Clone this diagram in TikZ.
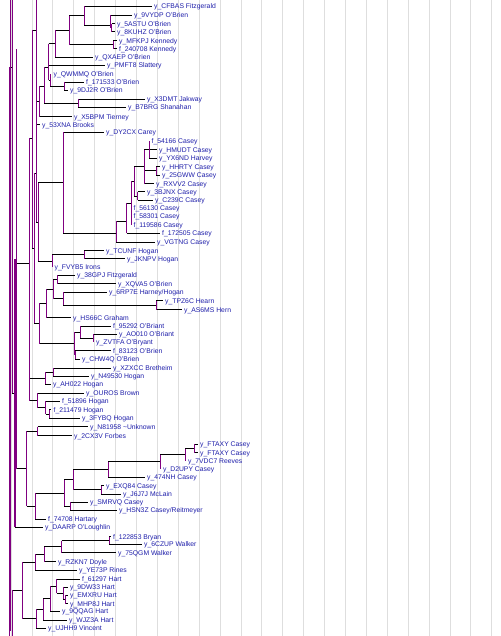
\documentclass[tikz,border=0pt]{standalone}
\usepackage{fontspec}
\setmainfont{Liberation Sans}
\definecolor{pur}{RGB}{128,0,128}
\definecolor{lbl}{RGB}{30,30,170}
\definecolor{grd}{RGB}{222,222,222}
\newcommand{\hc}[2]{\draw[hl] (#1 |- #2) -- (#2);}
\newcommand{\vc}[3]{\draw[vl] (#1 |- #2) -- (#1 |- #3);}
\newcommand{\lf}[4]{\node[leaf] (#1) at (#2,#3) {#4};}
\begin{document}
\begin{tikzpicture}[x=1pt,y=-1pt,
  leaf/.style={anchor=west,inner xsep=2.5pt,inner ysep=0pt,font=\fontsize{6.8}{7}\selectfont,text=lbl,text height=4.9pt,text depth=0pt},
  hl/.style={draw=black,line width=0.8pt},
  vl/.style={draw=pur,line width=0.9pt},
  vlb/.style={draw=pur,line width=2pt},
  gridline/.style={draw=grd,line width=0.8pt}]
\useasboundingbox (0,0) rectangle (500,636);
\fill[white] (0,0) rectangle (500,636);
\foreach \k in {0,...,23} \draw[gridline] ({11+20.9*\k},0) -- ({11+20.9*\k},636);
% leaves
\lf{l1}{151.5}{6.3}{y\_CFBAS Fitzgerald}
\lf{l2}{131.5}{15.3}{y\_9VYDP O'Brien}
\lf{l3}{114.5}{23.7}{y\_5ASTU O'Brien}
\lf{l4}{114.5}{31.7}{y\_8KUHZ O'Brien}
\lf{l5}{116.5}{40.7}{y\_MFKPJ Kennedy}
\lf{l6}{116.5}{48.7}{f\_240708 Kennedy}
\lf{l7}{92.5}{57.3}{y\_QXAEP O'Brien}
\lf{l8}{104.5}{65.3}{y\_PMFT8 Slattery}
\lf{l9}{51}{74}{y\_QWMMQ O'Brien}
\lf{l10}{83.5}{82}{f\_171533 O'Brien}
\lf{l11}{67.5}{90}{y\_9DJ2R O'Brien}
\lf{l12}{144.5}{99}{y\_X3DMT Jakway}
\lf{l13}{125.5}{107.3}{y\_B7BRG Shanahan}
\lf{l14}{71.5}{116.7}{y\_X5BPM Tierney}
\lf{l15}{39.5}{124.7}{y\_53XNA Brooks}
\lf{l16}{103.5}{132.3}{y\_DY2CX Carey}
\lf{l17}{149}{141.3}{f\_54166 Casey}
\lf{l18}{156.5}{149.7}{y\_HMUDT Casey}
\lf{l19}{156.5}{158.3}{y\_YX6ND Harvey}
\lf{l20}{159.5}{166.7}{y\_HHRTY Casey}
\lf{l21}{159.5}{175}{y\_25GWW Casey}
\lf{l22}{153.5}{183.7}{y\_RXVV2 Casey}
\lf{l23}{144.5}{191.7}{y\_3BJNX Casey}
\lf{l24}{152.5}{200.3}{y\_C239C Casey}
\lf{l25}{131}{208.3}{f\_56130 Casey}
\lf{l26}{131}{216.3}{f\_58301 Casey}
\lf{l27}{131}{225}{f\_119586 Casey}
\lf{l28}{159.5}{233.3}{f\_172505 Casey}
\lf{l29}{154.5}{242}{y\_VGTNG Casey}
\lf{l30}{103.5}{250.7}{y\_TCUNF Hogan}
\lf{l31}{124.5}{258.7}{y\_JKNPV Hogan}
\lf{l32}{52}{267.3}{y\_FVYB5 Irons}
\lf{l33}{74.5}{275.3}{y\_38GPJ Fitzgerald}
\lf{l34}{115.5}{283.7}{y\_XQVA5 O'Brien}
\lf{l35}{106.5}{292.3}{y\_6RP7E Harney/Hogan}
\lf{l36}{162.5}{300.7}{y\_TPZ6C Hearn}
\lf{l37}{181.5}{309.7}{y\_AS6MS Hern}
\lf{l38}{70.5}{317.7}{y\_HS66C Graham}
\lf{l39}{110.5}{326}{f\_95292 O'Briant}
\lf{l40}{116.5}{334}{y\_AO010 O'Briant}
\lf{l41}{93.5}{342.3}{y\_ZVTFA O'Bryant}
\lf{l42}{110.5}{350.7}{f\_83123 O'Brien}
\lf{l43}{79.5}{359}{y\_CHW4Q O'Brien}
\lf{l44}{110.5}{368}{y\_XZXCC Bretheim}
\lf{l45}{88.5}{376.3}{y\_N49530 Hogan}
\lf{l46}{50.5}{384.3}{y\_AH022 Hogan}
\lf{l47}{83.5}{393.3}{y\_OUROS Brown}
\lf{l48}{59.5}{401.3}{f\_51896 Hogan}
\lf{l49}{51}{409.7}{f\_211479 Hogan}
\lf{l50}{79.5}{418.3}{y\_3FYBQ Hogan}
\lf{l51}{87.5}{426.7}{y\_N81958 \textasciitilde Unknown}
\lf{l52}{71.5}{435.7}{y\_2CX3V Forbes}
\lf{l53}{197.5}{444.3}{y\_FTAXY Casey}
\lf{l54}{197.5}{452.7}{y\_FTAXY Casey}
\lf{l55}{185.5}{460.7}{y\_7VDC7 Reeves}
\lf{l56}{160.5}{468.7}{y\_D2UPY Casey}
\lf{l57}{144.5}{477.3}{y\_474NH Casey}
\lf{l58}{103.5}{485.7}{y\_EXQ84 Casey}
\lf{l59}{120.5}{494}{y\_J6J7J McLain}
\lf{l60}{87.5}{502}{y\_SMRVQ Casey}
\lf{l61}{116.5}{510.3}{y\_HSN3Z Casey/Reitmeyer}
\lf{l62}{45.5}{519.3}{f\_74708 Hartary}
\lf{l63}{42.5}{527.3}{y\_DAARP O'Loughlin}
\lf{l64}{110.5}{536.7}{f\_122853 Bryan}
\lf{l65}{141.5}{544.3}{y\_6CZUP Walker}
\lf{l66}{115.5}{552.7}{y\_75QGM Walker}
\lf{l67}{55.5}{561.7}{y\_RZKN7 Doyle}
\lf{l68}{76.5}{570}{y\_YE73P Rines}
\lf{l69}{79.5}{579}{f\_61297 Hart}
\lf{l70}{67.5}{587.3}{y\_9DW33 Hart}
\lf{l71}{67.5}{595}{y\_EMXRU Hart}
\lf{l72}{67.5}{603.7}{y\_MHP8J Hart}
\lf{l73}{59.5}{611.3}{y\_9QQAG Hart}
\lf{l74}{66.5}{620}{y\_WJZ3A Hart}
\lf{l75}{45.5}{628}{y\_UJHH9 Vincent}
% internal nodes
\coordinate (nB0) at (111.7,27.7);
\coordinate (nB1) at (110,25.3);
\coordinate (nA) at (84.3,15.7);
\coordinate (nKen) at (113.3,44.7);
\coordinate (nB) at (69,30);
\coordinate (nC) at (55,43.7);
\coordinate (n171) at (64,86);
\coordinate (nQW) at (50,80);
\coordinate (nD) at (48.5,67);
\coordinate (nX3) at (78.3,103.3);
\coordinate (nE) at (44.3,86);
\coordinate (nF) at (39.3,101);
\coordinate (P36) at (36,30);
\coordinate (t36) at (36,0);
\coordinate (nc1) at (149,149.7);
\coordinate (nHH) at (156,170.8);
\coordinate (nc2) at (144.3,166.7);
\coordinate (n3B) at (137.7,196);
\coordinate (nc3) at (134.3,181.3);
\coordinate (nc4) at (131,203);
\coordinate (nc5) at (126.7,221);
\coordinate (nc6) at (116,233);
\coordinate (ncas) at (63.3,182.7);
\coordinate (nTJ) at (84.3,254.7);
\coordinate (nTJF) at (52,261);
\coordinate (nCH) at (38.3,221.9);
\coordinate (P36b) at (36,173.3);
\coordinate (n38X) at (57.7,279.5);
\coordinate (nTP) at (156,305.2);
\coordinate (n6R) at (63.3,298.7);
\coordinate (n38) at (53.3,289.1);
\coordinate (nHS) at (46,303.4);
\coordinate (nAZ) at (93.5,338.2);
\coordinate (nOb) at (80,332.1);
\coordinate (n83) at (75,354.8);
\coordinate (nOB2) at (74,343.5);
\coordinate (nHS2) at (39.3,323.4);
\coordinate (P34) at (34.3,248.3);
\coordinate (P32) at (32.3,138);
\coordinate (nXN) at (53.3,372.2);
\coordinate (nXA) at (45,378.2);
\coordinate (nOU3) at (49,414);
\coordinate (nOU2) at (45.7,407.7);
\coordinate (nOU) at (37.7,400.5);
\coordinate (P29b) at (29.8,389.4);
\coordinate (P29) at (29.3,263.7);
\coordinate (nNF) at (37.7,431.2);
\coordinate (nFT) at (194.3,448.5);
\coordinate (n7V) at (185,454.6);
\coordinate (nD2) at (160,461.7);
\coordinate (n47) at (108.3,469.5);
\coordinate (nEX) at (101,489.8);
\coordinate (nQ1) at (73.3,479.6);
\coordinate (nSM) at (70,506.2);
\coordinate (nQ2) at (64.3,492.9);
\coordinate (nQ3) at (35,506.1);
\coordinate (nQ4) at (26.7,468.7);
\coordinate (nW1) at (109.3,540.5);
\coordinate (nW2) at (61.7,546.6);
\coordinate (nW3) at (44.3,554.2);
\coordinate (nW4) at (35,562.1);
\coordinate (nH1) at (65,599.3);
\coordinate (nH2) at (63.3,593.3);
\coordinate (nH3) at (56.7,586.2);
\coordinate (nH4) at (50,598.7);
\coordinate (nH5) at (43.3,609.4);
\coordinate (nH6) at (36,618.7);
\coordinate (nW5) at (22.7,590.4);
\coordinate (L16) at (16,258.9);
\coordinate (t16) at (16,49);
\coordinate (L14) at (14.5,393);
\coordinate (L12) at (12,67);
\coordinate (t12) at (12,0);
\coordinate (L9) at (9,100);
\coordinate (b9) at (9,636);
\coordinate (t10) at (10.5,0);
\coordinate (b10) at (10.5,631);
\coordinate (B12) at (12.7,620);
\coordinate (b12) at (12.7,636);
% horizontal connectors
\hc{nB0}{l3}\hc{nB0}{l4}
\hc{nB1}{l2}\hc{nB1}{nB0}
\hc{nA}{l1}\hc{nA}{nB1}
\hc{nKen}{l5}\hc{nKen}{l6}
\hc{nB}{nA}\hc{nB}{nKen}
\hc{nC}{nB}\hc{nC}{l7}
\hc{n171}{l10}\hc{n171}{l11}
\hc{nQW}{l9}\hc{nQW}{n171}
\hc{nD}{nC}\hc{nD}{l8}\hc{nD}{nQW}
\hc{nX3}{l12}\hc{nX3}{l13}
\hc{nE}{nD}\hc{nE}{nX3}
\hc{nF}{nE}\hc{nF}{l14}
\hc{P36}{nF}
\hc{nc1}{l17}\hc{nc1}{l18}\hc{nc1}{l19}
\hc{nHH}{l20}\hc{nHH}{l21}
\hc{nc2}{nc1}\hc{nc2}{nHH}\hc{nc2}{l22}
\hc{n3B}{l23}\hc{n3B}{l24}
\hc{nc3}{nc2}\hc{nc3}{n3B}
\hc{nc4}{nc3}\hc{nc4}{l25}\hc{nc4}{l26}\hc{nc4}{l27}
\hc{nc5}{nc4}\hc{nc5}{l28}
\hc{nc6}{nc5}\hc{nc6}{l29}
\hc{ncas}{l16}\hc{ncas}{nc6}
\hc{nTJ}{l30}\hc{nTJ}{l31}
\hc{nTJF}{nTJ}\hc{nTJF}{l32}
\hc{nCH}{ncas}\hc{nCH}{nTJF}
\hc{P36b}{l15}\hc{P36b}{nCH}
\hc{n38X}{l33}\hc{n38X}{l34}
\hc{nTP}{l36}\hc{nTP}{l37}
\hc{n6R}{l35}\hc{n6R}{nTP}
\hc{n38}{n38X}\hc{n38}{n6R}
\hc{nHS}{n38}\hc{nHS}{l38}
\hc{nAZ}{l40}\hc{nAZ}{l41}
\hc{nOb}{l39}\hc{nOb}{nAZ}
\hc{n83}{l42}\hc{n83}{l43}
\hc{nOB2}{nOb}\hc{nOB2}{n83}
\hc{nHS2}{nHS}\hc{nHS2}{nOB2}
\hc{P34}{P36b}\hc{P34}{nHS2}
\hc{P32}{P36}\hc{P32}{P34}
\hc{nXN}{l44}\hc{nXN}{l45}
\hc{nXA}{nXN}\hc{nXA}{l46}
\hc{nOU3}{l49}\hc{nOU3}{l50}
\hc{nOU2}{l48}\hc{nOU2}{nOU3}
\hc{nOU}{l47}\hc{nOU}{nOU2}
\hc{P29b}{nXA}\hc{P29b}{nOU}
\hc{P29}{P32}\hc{P29}{P29b}
\hc{nNF}{l51}\hc{nNF}{l52}
\hc{nFT}{l53}\hc{nFT}{l54}
\hc{n7V}{nFT}\hc{n7V}{l55}
\hc{nD2}{n7V}\hc{nD2}{l56}
\hc{n47}{nD2}\hc{n47}{l57}
\hc{nEX}{l58}\hc{nEX}{l59}
\hc{nQ1}{n47}\hc{nQ1}{nEX}
\hc{nSM}{l60}\hc{nSM}{l61}
\hc{nQ2}{nQ1}\hc{nQ2}{nSM}
\hc{nQ3}{nQ2}\hc{nQ3}{l62}
\hc{nQ4}{nNF}\hc{nQ4}{nQ3}
\hc{nW1}{l64}\hc{nW1}{l65}
\hc{nW2}{nW1}\hc{nW2}{l66}
\hc{nW3}{nW2}\hc{nW3}{l67}
\hc{nW4}{nW3}\hc{nW4}{l68}
\hc{nH1}{l71}\hc{nH1}{l72}
\hc{nH2}{l70}\hc{nH2}{nH1}
\hc{nH3}{l69}\hc{nH3}{nH2}
\hc{nH4}{nH3}\hc{nH4}{l73}
\hc{nH5}{nH4}\hc{nH5}{l74}
\hc{nH6}{nH5}\hc{nH6}{l75}
\hc{nW5}{nW4}\hc{nW5}{nH6}
\hc{L16}{P29}\hc{L16}{nQ4}
\hc{L14}{L16}\hc{L14}{l63}
\hc{L12}{L14}
\hc{L9}{L12}
\hc{B12}{nW5}
% vertical connectors
\vc{nB0}{l3}{l4}
\vc{nB1}{l2}{nB0}
\vc{nA}{l1}{nB1}
\vc{nKen}{l5}{l6}
\vc{nB}{nA}{nKen}
\vc{nC}{nB}{l7}
\vc{n171}{l10}{l11}
\vc{nQW}{l9}{n171}
\vc{nD}{nC}{nQW}
\vc{nX3}{l12}{l13}
\vc{nE}{nD}{nX3}
\vc{nF}{nE}{l14}
\vc{P36}{t36}{l15}
\vc{nc1}{l17}{l19}
\vc{nHH}{l20}{l21}
\vc{nc2}{nc1}{l22}
\vc{n3B}{l23}{l24}
\vc{nc3}{nc2}{n3B}
\vc{nc4}{nc3}{l27}
\vc{nc5}{nc4}{l28}
\vc{nc6}{nc5}{l29}
\vc{ncas}{l16}{nc6}
\vc{nTJ}{l30}{l31}
\vc{nTJF}{nTJ}{l32}
\vc{nCH}{ncas}{nTJF}
\vc{P36b}{l15}{nCH}
\vc{n38X}{l33}{l34}
\vc{nTP}{l36}{l37}
\vc{n6R}{l35}{nTP}
\vc{n38}{n38X}{n6R}
\vc{nHS}{n38}{l38}
\vc{nAZ}{l40}{l41}
\vc{nOb}{l39}{nAZ}
\vc{n83}{l42}{l43}
\vc{nOB2}{nOb}{n83}
\vc{nHS2}{nHS}{nOB2}
\vc{P34}{P36b}{nHS2}
\vc{P32}{P36}{P34}
\vc{nXN}{l44}{l45}
\vc{nXA}{nXN}{l46}
\vc{nOU3}{l49}{l50}
\vc{nOU2}{l48}{nOU3}
\vc{nOU}{l47}{nOU2}
\vc{P29b}{nXA}{nOU}
\vc{P29}{P32}{P29b}
\vc{nNF}{l51}{l52}
\vc{nFT}{l53}{l54}
\vc{n7V}{nFT}{l55}
\vc{nD2}{n7V}{l56}
\vc{n47}{nD2}{l57}
\vc{nEX}{l58}{l59}
\vc{nQ1}{n47}{nEX}
\vc{nSM}{l60}{l61}
\vc{nQ2}{nQ1}{nSM}
\vc{nQ3}{nQ2}{l62}
\vc{nQ4}{nNF}{nQ3}
\vc{nW1}{l64}{l65}
\vc{nW2}{nW1}{l66}
\vc{nW3}{nW2}{l67}
\vc{nW4}{nW3}{l68}
\vc{nH1}{l71}{l72}
\vc{nH2}{l70}{nH1}
\vc{nH3}{l69}{nH2}
\vc{nH4}{nH3}{l73}
\vc{nH5}{nH4}{l74}
\vc{nH6}{nH5}{l75}
\vc{nW5}{nW4}{nH6}
\vc{L16}{t16}{nQ4}
\draw[vlb] (L14 |- L16) -- (L14 |- l63);
\vc{L12}{t12}{L14}
\vc{L9}{L12}{b9}
\draw[vl] (t10) -- (b10);
\vc{B12}{nW5}{b12}
\end{tikzpicture}
\end{document}
